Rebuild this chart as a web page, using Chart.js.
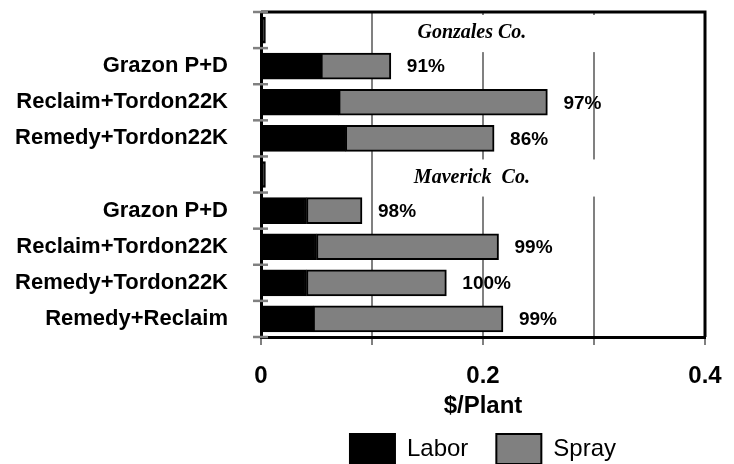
<!DOCTYPE html>
<html>
<head>
<meta charset="utf-8">
<script src="https://cdn.jsdelivr.net/npm/chart.js@4/dist/chart.umd.min.js"></script>
<style>
  body { margin: 0; background: #ffffff; }
</style>
</head>
<body>
<canvas id="grafico" width="734" height="464"></canvas>
<script>
// Datos ($/planta)
const categorias = ["", "Grazon P+D", "Reclaim+Tordon22K", "Remedy+Tordon22K", "", "Grazon P+D", "Reclaim+Tordon22K", "Remedy+Tordon22K", "Remedy+Reclaim"];
const labor = [0.004, 0.054, 0.070, 0.076, 0.004, 0.041, 0.050, 0.041, 0.047];
const spray = [null, 0.063, 0.188, 0.134, null, 0.050, 0.164, 0.126, 0.171];
const porcentajes = ["", "91%", "97%", "86%", "", "98%", "99%", "100%", "99%"];
const grupos = ["Gonzales Co.", "", "", "", "Maverick  Co.", "", "", "", ""];
const etiquetasX = ["0", "", "0.2", "", "0.4"];

const negro = "#000000";
const gris = "#808080";
Chart.defaults.font.family = "'Liberation Sans', Arial, sans-serif";
Chart.defaults.color = negro;

// Dibuja los textos extra, el marco y las marcas del eje Y
const extras = {
  id: "extras",
  beforeDatasetsDraw(chart) {
    const { ctx, scales } = chart;
    const x = scales.x, y = scales.y;
    const mitad = (y.getPixelForValue(1) - y.getPixelForValue(0)) / 2;
    ctx.save();
    for (let i = 0; i < grupos.length; i++) {
      if (!grupos[i]) continue;
      const yc = y.getPixelForValue(i);
      // caja blanca detras del titulo del grupo
      ctx.fillStyle = "#ffffff";
      const x1 = x.getPixelForValue(0.125), x2 = x.getPixelForValue(0.31);
      ctx.fillRect(x1, yc - mitad + 3, x2 - x1, 2 * mitad + 1);
      ctx.fillStyle = negro;
      ctx.font = "italic bold 20px 'Liberation Serif', 'Times New Roman', serif";
      ctx.textAlign = "center";
      ctx.textBaseline = "middle";
      ctx.fillText(grupos[i], x.getPixelForValue(0.19), yc + 3);
    }
    ctx.restore();
  },
  afterDatasetsDraw(chart) {
    const { ctx, scales } = chart;
    const x = scales.x, y = scales.y;
    ctx.save();
    ctx.font = "bold 19px 'Liberation Sans', Arial, sans-serif";
    ctx.fillStyle = negro;
    ctx.textAlign = "left";
    ctx.textBaseline = "middle";
    for (let i = 0; i < porcentajes.length; i++) {
      if (!porcentajes[i]) continue;
      const total = labor[i] + (spray[i] || 0);
      ctx.fillText(porcentajes[i], x.getPixelForValue(total) + 16, y.getPixelForValue(i) + 1);
    }
    ctx.restore();
  },
  afterDraw(chart) {
    const { ctx, chartArea, scales } = chart;
    const y = scales.y;
    ctx.save();
    // marco superior y derecho
    ctx.strokeStyle = negro;
    ctx.lineWidth = 3;
    ctx.beginPath();
    ctx.moveTo(chartArea.left, chartArea.top);
    ctx.lineTo(chartArea.right, chartArea.top);
    ctx.lineTo(chartArea.right, chartArea.bottom);
    ctx.stroke();
    // marcas entre categorias en el eje Y
    ctx.strokeStyle = gris;
    ctx.lineWidth = 2.5;
    for (let i = 0; i <= categorias.length; i++) {
      const yy = y.getPixelForValue(i - 0.5);
      ctx.beginPath();
      ctx.moveTo(chartArea.left - 8, yy);
      ctx.lineTo(chartArea.left + 7, yy);
      ctx.stroke();
    }
    ctx.restore();
  }
};

new Chart(document.getElementById("grafico"), {
  type: "bar",
  data: {
    labels: categorias,
    datasets: [
      {
        label: "Labor",
        data: labor,
        backgroundColor: negro,
        borderColor: negro,
        borderWidth: 2,
        borderSkipped: false,
        barThickness: 26,
      },
      {
        label: "Spray",
        data: spray,
        backgroundColor: gris,
        borderColor: negro,
        borderWidth: 2,
        borderSkipped: false,
        barThickness: 26,
      },
    ],
  },
  options: {
    indexAxis: "y",
    responsive: false,
    animation: false,
    layout: { padding: { top: 12, right: 29, left: 0, bottom: -10 } },
    scales: {
      x: {
        stacked: true,
        min: 0,
        max: 0.4,
        ticks: {
          stepSize: 0.1,
          autoSkip: false,
          maxRotation: 0,
          padding: 17,
          font: { size: 24, weight: "bold" },
          callback: (v, i) => etiquetasX[i],
        },
        grid: {
          color: (c) => (c.tick && c.tick.value === 0 ? "rgba(0,0,0,0)" : gris),
          tickColor: gris,
          lineWidth: 2,
          tickLength: 8,
        },
        border: { color: negro, width: 3 },
        title: {
          display: true,
          text: "$/Plant",
          font: { size: 24, weight: "bold" },
          padding: { top: 0, bottom: -15 },
        },
        afterFit: (scale) => {
          scale.height = 69;
          scale.paddingLeft = 0;
          scale.paddingRight = 0;
        },
      },
      y: {
        stacked: true,
        grid: { display: false },
        border: { color: negro, width: 3 },
        ticks: {
          padding: 25,
          font: { size: 22, weight: "bold" },
        },
        afterFit: (scale) => {
          scale.width = 261;
          // sin relleno extra arriba/abajo por las etiquetas
          scale.paddingTop = 0;
          scale.paddingBottom = 0;
        },
      },
    },
    plugins: {
      legend: {
        position: "bottom",
        fullSize: false,
        labels: {
          boxWidth: 45,
          boxHeight: 30,
          padding: 28,
          font: { size: 24 },
          color: negro,
        },
      },
      tooltip: { enabled: false },
    },
  },
  plugins: [extras],
});
</script>
</body>
</html>
